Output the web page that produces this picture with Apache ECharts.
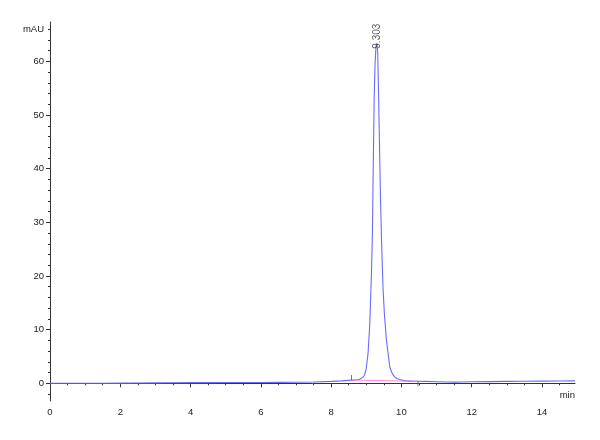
<!DOCTYPE html>
<html><head><meta charset="utf-8">
<script src="https://cdn.jsdelivr.net/npm/echarts@6/dist/echarts.min.js"></script>
<style>html,body{margin:0;padding:0;background:#fff}#c{width:600px;height:440px}</style>
</head><body><div id="c"></div>
<script>
// Retention time (min) and detector signal (mAU)
const times = [0,0.5,1,1.5,2,2.5,3,3.5,4,4.5,5,5.5,6,6.5,7,7.5,8,8.3,8.58,8.7,8.8,8.9,8.95,9.0,9.05,9.1,9.15,9.175,9.2,9.225,9.25,9.275,9.303,9.325,9.35,9.375,9.4,9.433,9.478,9.52,9.575,9.62,9.67,9.72,9.76,9.81,9.87,9.95,10.05,10.15,10.3,10.47,10.7,11,11.3,11.5,11.7,12,12.5,13,13.5,14,14.5,14.94];
const signal = [0,0,0.01,0.02,0.04,0.06,0.08,0.1,0.12,0.13,0.14,0.15,0.16,0.18,0.2,0.25,0.35,0.45,0.6,0.65,0.7,1.1,1.5,2.8,5.5,11,21,28,41,53,59.5,62.6,63.4,61.8,54,45,36,27,17.5,12.5,8,5.6,3.0,2.1,1.6,1.2,0.9,0.7,0.55,0.45,0.4,0.38,0.35,0.3,0.25,0.22,0.25,0.3,0.32,0.35,0.38,0.4,0.42,0.45];
// Integration baseline
const baselineTimes = [8.58, 10.47];
const baselineValues = [0.6, 0.38];
// Peak start / end event markers
const markerTimes = [8.58, 10.47];
const markerValues = [0.6, 0.38];
// Peak annotation
const peakTime = 9.303;
const peakHeight = 63.4;
const peakLabel = '9.303';
// Ticks
const xMajorTicks = [0,2,4,6,8,10,12,14];
const xMinorTicks = [0.5,1,1.5,2.5,3,3.5,4.5,5,5.5,6.5,7,7.5,8.5,9,9.5,10.5,11,11.5,12.5,13,13.5,14.5];
const yMajorTicks = [0,10,20,30,40,50,60];
const yLabelTicks = [0,10,20,30,40,50,60,66];
const yMinorTicks = [-2,2,4,6,8,12,14,16,18,22,24,26,28,32,34,36,38,42,44,46,48,52,54,56,58,62,64,66];
const xUnit = 'min';
const yUnit = 'mAU';

const FONT = "'Liberation Sans',Arial,sans-serif";
const axisColor = '#333';
const xMin = 0, xMax = 14.94, yMin = -3.3, yMax = 67.35;

const chart = echarts.init(document.getElementById('c'), null, {renderer: 'canvas'});
chart.setOption({
  animation: false,
  backgroundColor: '#fff',
  grid: {left: 50, right: 25, top: 22, bottom: 39, containLabel: false},
  xAxis: [
    {
      type: 'value', min: xMin, max: xMax, position: 'bottom',
      axisLine: {show: true, lineStyle: {color: axisColor, width: 1}},
      axisTick: {show: true, customValues: xMajorTicks, length: 4, lineStyle: {color: axisColor}},
      axisLabel: {show: true, customValues: xMajorTicks, margin: 6, color: '#222', fontSize: 9.5, fontFamily: FONT},
      splitLine: {show: false},
      name: xUnit, nameLocation: 'end', nameGap: 0,
      nameTextStyle: {align: 'right', verticalAlign: 'top', padding: [7, 0, 0, 0], color: '#222', fontSize: 9.5, fontFamily: FONT}
    },
    {
      type: 'value', min: xMin, max: xMax, position: 'bottom',
      axisLine: {show: false},
      axisTick: {show: true, customValues: xMinorTicks, length: 2, lineStyle: {color: axisColor}},
      axisLabel: {show: false},
      splitLine: {show: false}
    }
  ],
  yAxis: [
    {
      type: 'value', min: yMin, max: yMax, position: 'left',
      axisLine: {show: true, lineStyle: {color: axisColor, width: 1}},
      axisTick: {show: true, customValues: yMajorTicks, length: 4, lineStyle: {color: axisColor}},
      axisLabel: {show: true, customValues: yLabelTicks, margin: 6, color: '#222', fontSize: 9.5, fontFamily: FONT,
        formatter: v => (v === 66 ? yUnit : String(v))},
      splitLine: {show: false}
    },
    {
      type: 'value', min: yMin, max: yMax, position: 'left',
      axisLine: {show: false},
      axisTick: {show: true, customValues: yMinorTicks, length: 2, lineStyle: {color: axisColor}},
      axisLabel: {show: false},
      splitLine: {show: false}
    }
  ],
  series: [
    {
      type: 'line', xAxisIndex: 0, yAxisIndex: 0,
      data: times.map((t, i) => [t, signal[i]]),
      showSymbol: false, symbol: 'none',
      lineStyle: {color: '#6a6aff', width: 1.1},
      z: 2
    },
    {
      type: 'line', xAxisIndex: 0, yAxisIndex: 0,
      data: baselineTimes.map((t, i) => [t, baselineValues[i]]),
      showSymbol: false, symbol: 'none',
      lineStyle: {color: '#ff66e0', width: 1, opacity: 0.8},
      z: 3
    },
    {
      type: 'scatter', xAxisIndex: 0, yAxisIndex: 0,
      data: markerTimes.map((t, i) => ({value: [t, markerValues[i]], symbolOffset: [0, i === 0 ? -2.5 : 2.5]})),
      symbol: 'rect', symbolSize: [1, 5],
      itemStyle: {color: '#555'},
      silent: true, z: 4
    },
    {
      type: 'scatter', xAxisIndex: 0, yAxisIndex: 0,
      data: [[peakTime, peakHeight]],
      symbol: 'circle', symbolSize: 1,
      itemStyle: {color: 'rgba(0,0,0,0)'},
      label: {show: true, formatter: peakLabel, position: 'top', distance: 0, offset: [-6, 0],
        rotate: 90, align: 'left', verticalAlign: 'middle',
        color: '#333', fontSize: 10, fontFamily: FONT},
      silent: true, z: 5
    }
  ]
});
</script>
</body></html>
